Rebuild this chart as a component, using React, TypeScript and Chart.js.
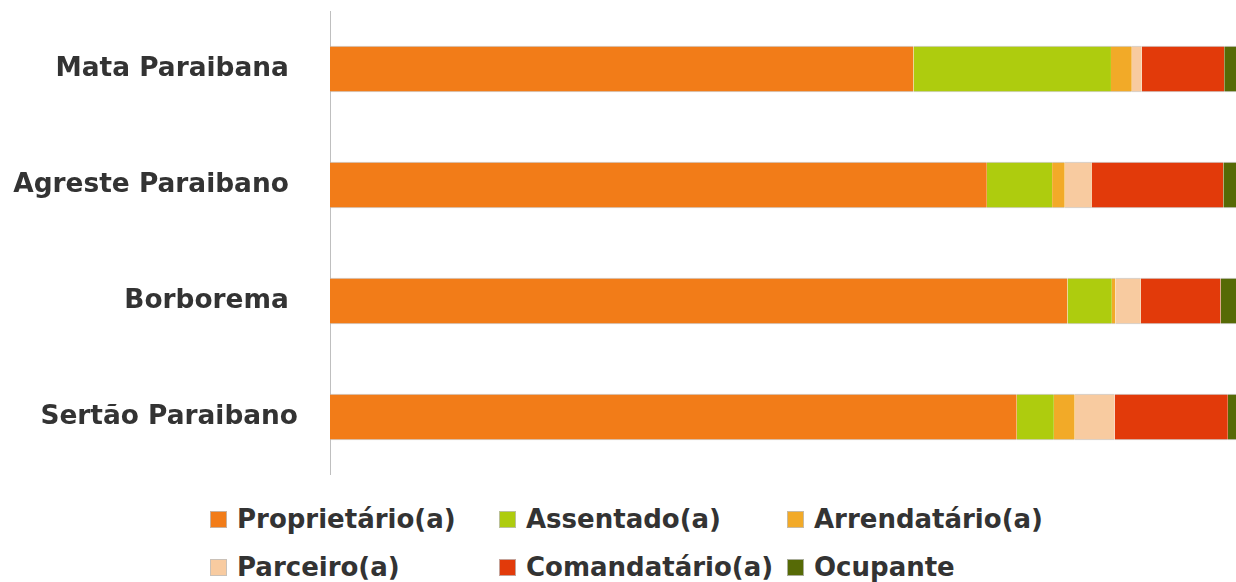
import React, { useEffect, useRef } from "react";
import { Chart, registerables } from "chart.js";

Chart.register(...registerables);

const categories = ["Mata Paraibana ", "Agreste Paraibano ", "Borborema ", "Sertão Paraibano"];
const seriesNames = ["Proprietário(a)", "Assentado(a)", "Arrendatário(a)", "Parceiro(a)", "Comandatário(a)", "Ocupante"];
const proprietario = [64.4, 72.5, 81.4, 75.8];
const assentado = [21.8, 7.2, 4.9, 4.1];
const arrendatario = [2.3, 1.4, 0.4, 2.3];
const parceiro = [1.1, 3.0, 2.8, 4.4];
const comandatario = [9.1, 14.5, 8.8, 12.5];
const ocupante = [1.3, 1.4, 1.7, 0.9];
const colors = ["#F27C18", "#AECC0E", "#F2AA28", "#F8CBA0", "#E23A0A", "#566A06"];

const FONT = "'DejaVu Sans', sans-serif";

export default function App() {
  const ref = useRef<HTMLCanvasElement>(null);
  useEffect(() => {
    document.body.style.margin = "0";
    const values = [proprietario, assentado, arrendatario, parceiro, comandatario, ocupante];
    const chart = new Chart(ref.current!, {
      type: "bar",
      data: {
        labels: categories,
        datasets: seriesNames.map((name, i) => ({
          label: name,
          data: values[i],
          backgroundColor: colors[i],
          borderColor: "rgba(190,190,190,0.9)",
          borderWidth: { top: 1, bottom: 1, left: 0, right: 0 },
          borderSkipped: false,
          barPercentage: 0.4,
          categoryPercentage: 1,
        })),
      },
      options: {
        indexAxis: "y",
        animation: false,
        responsive: false,
        maintainAspectRatio: false,
        layout: { padding: { top: 11, right: 0, bottom: 0, left: 0 } },
        plugins: { legend: { display: false }, tooltip: { enabled: false } },
        scales: {
          x: { stacked: true, min: 0, max: 100, display: false },
          y: {
            stacked: true,
            grid: { display: false, drawTicks: false },
            border: { display: true, color: "#bfbfbf", width: 1 },
            afterFit: (s: any) => {
              s.width = 330;
              s.paddingTop = 0;
              s.paddingBottom = 0;
            },
            ticks: {
              padding: 32,
              color: "#333333",
              font: { family: FONT, size: 26.4, weight: "bold" },
            },
          },
        },
      },
    });
    return () => chart.destroy();
  }, []);

  const cols = [210, 499, 787];
  const rowsY = [519, 567];
  return (
    <div style={{ position: "relative", width: 1236, height: 582, background: "#fff" }}>
      <canvas ref={ref} width={1236} height={475} style={{ position: "absolute", left: 0, top: 0, width: 1236, height: 475 }} />
      {seriesNames.map((name, i) => {
        const c = i % 3;
        const r = Math.floor(i / 3);
        return (
          <div key={name} style={{ position: "absolute", left: cols[c], top: rowsY[r] - 16, height: 32, display: "flex", alignItems: "center", whiteSpace: "nowrap" }}>
            <span style={{ display: "inline-block", width: 17, height: 17, background: colors[i], border: "1px solid rgba(190,190,190,0.8)", boxSizing: "border-box", marginRight: 10 }} />
            <span style={{ fontFamily: FONT, fontWeight: "bold", fontSize: 26, color: "#333333" }}>{name}</span>
          </div>
        );
      })}
    </div>
  );
}
